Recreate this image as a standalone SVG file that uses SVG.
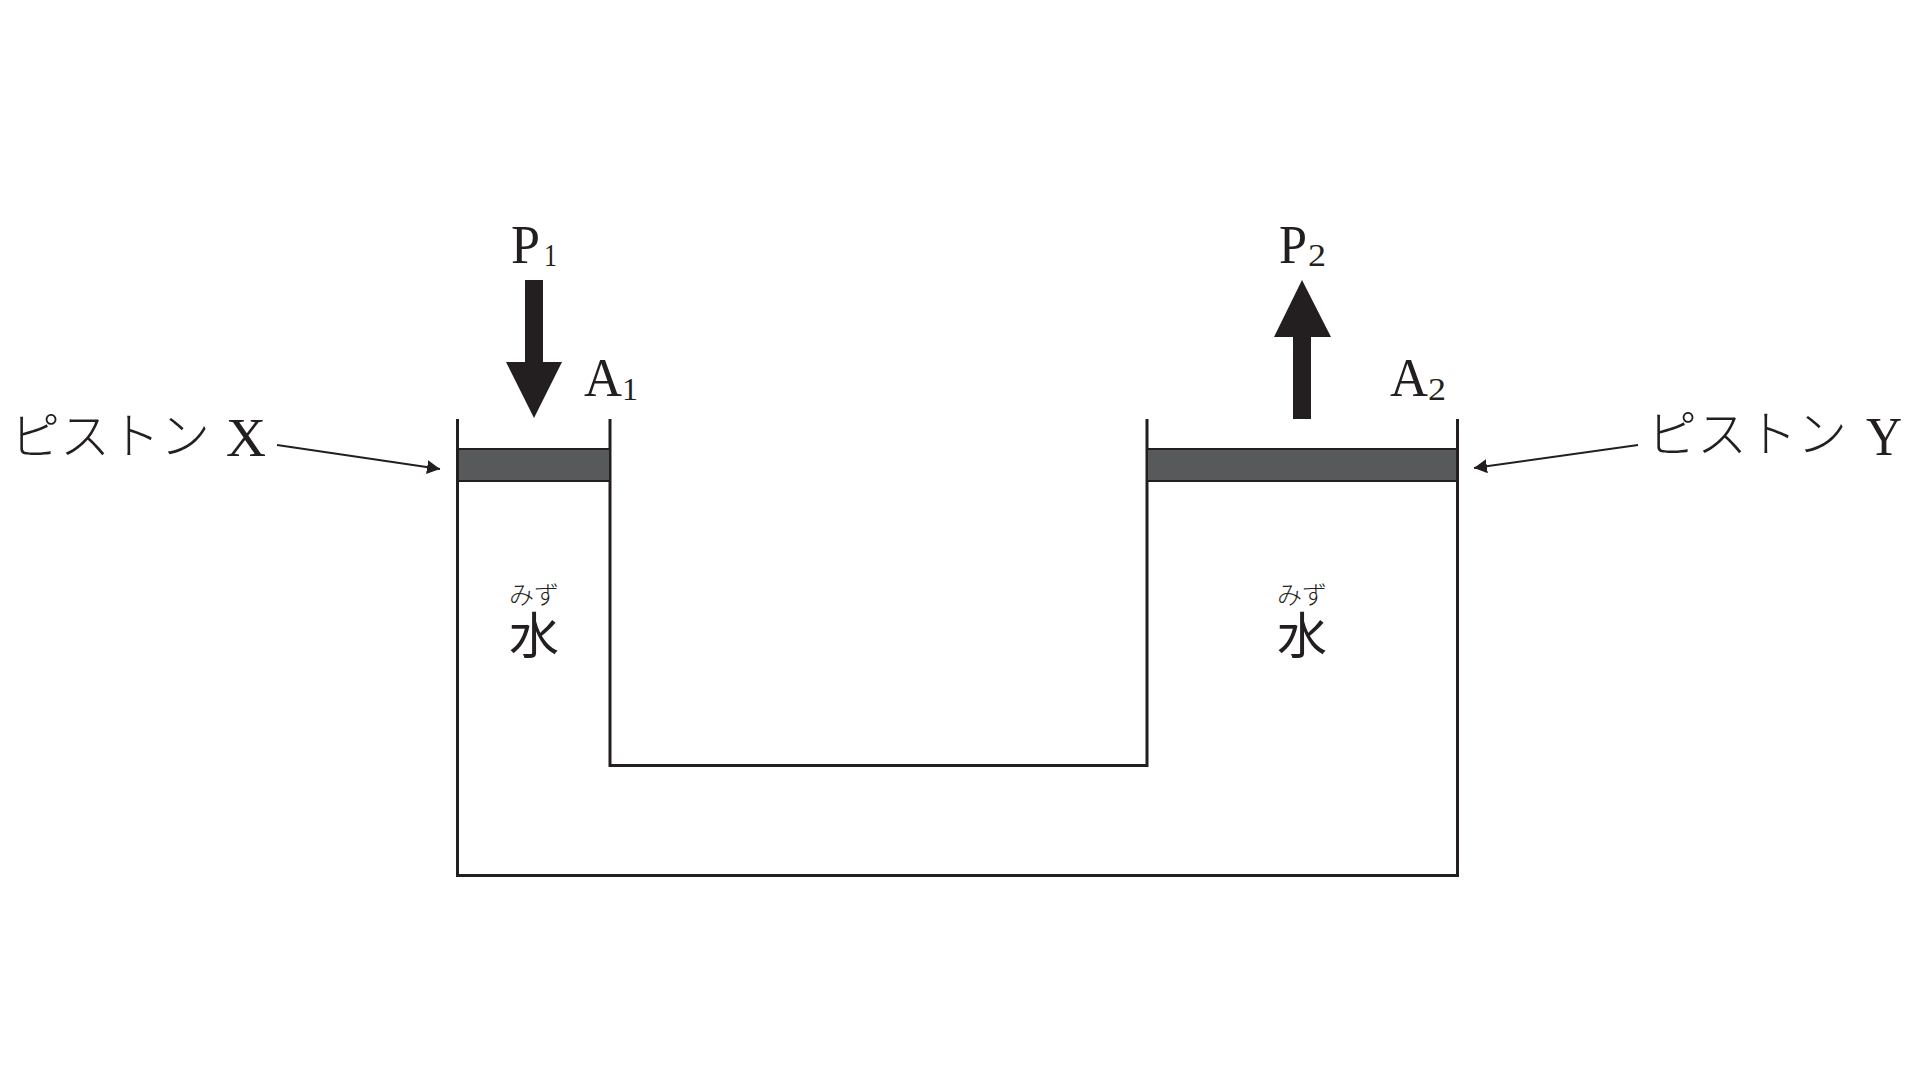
<svg xmlns="http://www.w3.org/2000/svg" width="1920" height="1080" viewBox="0 0 1920 1080">
<style>
.w{fill:none;stroke:#231f20;stroke-width:3}
.p{fill:#58595b;stroke:#231f20;stroke-width:2}
.a{fill:#231f20;stroke:none}
.l{fill:none;stroke:#231f20;stroke-width:2}
text{fill:#231f20}
.m{font-family:"Liberation Serif",serif;font-size:54px}
.s{font-family:"Liberation Serif",serif;font-size:32px}
.k{font-family:"Noto Sans CJK JP",sans-serif;font-size:50px;font-weight:300}
.h{font-family:"Noto Sans CJK JP",sans-serif;font-size:25px;font-weight:300}
.b{font-family:"Noto Sans CJK JP",sans-serif;font-size:50px;font-weight:400}
</style>
<defs><marker id="ah" markerUnits="userSpaceOnUse" markerWidth="14" markerHeight="14" refX="13" refY="7" orient="auto"><path d="M0 0L13 7L0 14Z" fill="#231f20"/></marker></defs>
<g id="vessel">
<path class="w" d="M457.500 419V875.500H1457.500V419"/>
<path class="w" d="M610 419V765.500H1147 V419"/>
</g>
<g id="piston-x"><rect class="p" x="458" y="449" width="152" height="32"/>
<text class="k" x="10" y="454">ピストン</text><text class="m" x="226" y="456" textLength="40" lengthAdjust="spacingAndGlyphs">X</text></g>
<g id="piston-y"><rect class="p" x="1147" y="449" width="310" height="32"/>
<text class="k" x="1647" y="452">ピストン</text><text class="m" x="1866" y="455" textLength="36" lengthAdjust="spacingAndGlyphs">Y</text></g>
<g id="force-p1"><path class="a" d="M525 280H543V362H562L534 418L506 362H525Z"/>
<text class="m" x="511" y="263" textLength="29" lengthAdjust="spacingAndGlyphs">P</text><text class="s" x="544" y="266" textLength="13" lengthAdjust="spacingAndGlyphs">1</text></g>
<g id="force-p2"><path class="a" d="M1302 280L1331 337H1311V419H1293V337H1274Z"/>
<text class="m" x="1279" y="263" textLength="28" lengthAdjust="spacingAndGlyphs">P</text><text class="s" x="1308" y="266" textLength="18" lengthAdjust="spacingAndGlyphs">2</text></g>
<g id="area-a1"><text class="m" x="584" y="396" textLength="38" lengthAdjust="spacingAndGlyphs">A</text><text class="s" x="622" y="400" textLength="16" lengthAdjust="spacingAndGlyphs">1</text></g>
<g id="area-a2"><text class="m" x="1390" y="396" textLength="38" lengthAdjust="spacingAndGlyphs">A</text><text class="s" x="1428" y="400" textLength="18" lengthAdjust="spacingAndGlyphs">2</text></g>
<g id="water-left"><text class="h" x="509" y="604">みず</text><text class="b" x="509" y="654">水</text></g>
<g id="water-right"><text class="h" x="1277" y="604">みず</text><text class="b" x="1277" y="654">水</text></g>
<g id="connectors">
<line class="l" x1="277" y1="445" x2="440" y2="469" marker-end="url(#ah)"/>
<line class="l" x1="1638" y1="445" x2="1474" y2="468" marker-end="url(#ah)"/>
</g>
</svg>
